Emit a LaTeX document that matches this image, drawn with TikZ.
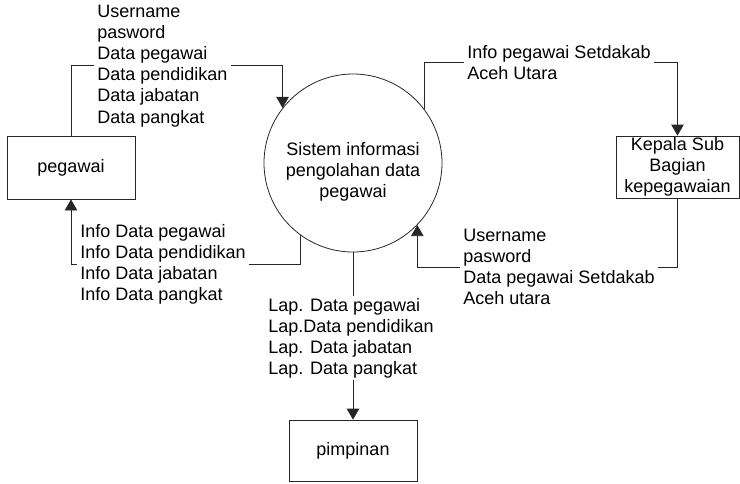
\documentclass[tikz,border=0pt]{standalone}
\usepackage{fontspec}
\setmainfont{Liberation Sans}
\usetikzlibrary{arrows.meta}
\tikzset{
	entitas/.style={draw=black!85,line width=0.45pt,minimum width=2.56cm,minimum height=1.26cm,inner sep=0pt,align=center},
	proses/.style={draw=black!85,circle,line width=0.45pt,minimum size=3.56cm,inner sep=0pt,align=center},
	alir/.style={draw=black!85,line width=0.45pt,-{Triangle[length=0.22cm,width=0.25cm]}},
	ket/.style={fill=white,anchor=west,align=left,inner xsep=2pt,inner ysep=1pt}
}
\begin{document}
\begin{tikzpicture}[font=\fontsize{10.25}{12}\selectfont]
		\path[use as bounding box] (0,0) rectangle (14.8,-9.66);
		\node[entitas] (peg) at (1.42,-3.35) {pegawai};
		\node[proses] (sis) at (7.06,-3.26) {\rule{0pt}{0.6cm}Sistem informasi\\pengolahan data\\pegawai};
		\node[entitas,minimum width=2.46cm,minimum height=1.24cm] (kep) at (13.55,-3.34) {Kepala Sub\\Bagian\\kepegawaian};
		\node[entitas,minimum height=1.22cm] (pim) at (7.06,-9.01) {pimpinan};
		
		\draw[alir] (peg.north) -- ++(0,1.4) -| (sis.142);
		\draw[alir] (sis.234) -- ++(0,-0.58) -| (peg.south);
		\draw[alir] (sis.37) -- ++(0,0.93) -| (kep.north);
		\draw[alir] (kep.south) -- ++(0,-1.38) -| (sis.316);
		\draw[alir] (sis.south) -- (pim.north);
		
		\node[ket] (lblA) at (1.87,-1.32) {Username\\pasword\\Data pegawai\\Data pendidikan\\Data jabatan\\Data pangkat};
		\node[ket] (lblB) at (1.53,-5.28) {Info Data pegawai\\Info Data pendidikan\\Info Data jabatan\\Info Data pangkat};
		\node[ket] (lblC) at (9.27,-1.26) {Info pegawai Setdakab\\Aceh Utara};
		\node[ket] (lblD) at (9.19,-5.34) {Username\\pasword\\Data pegawai Setdakab\\Aceh utara};
		\node[ket] (lblE) at (5.29,-6.76) {Lap. Data pegawai\\Lap.Data pendidikan\\Lap. Data jabatan\\Lap. Data pangkat};
		
	\end{tikzpicture}
\end{document}
